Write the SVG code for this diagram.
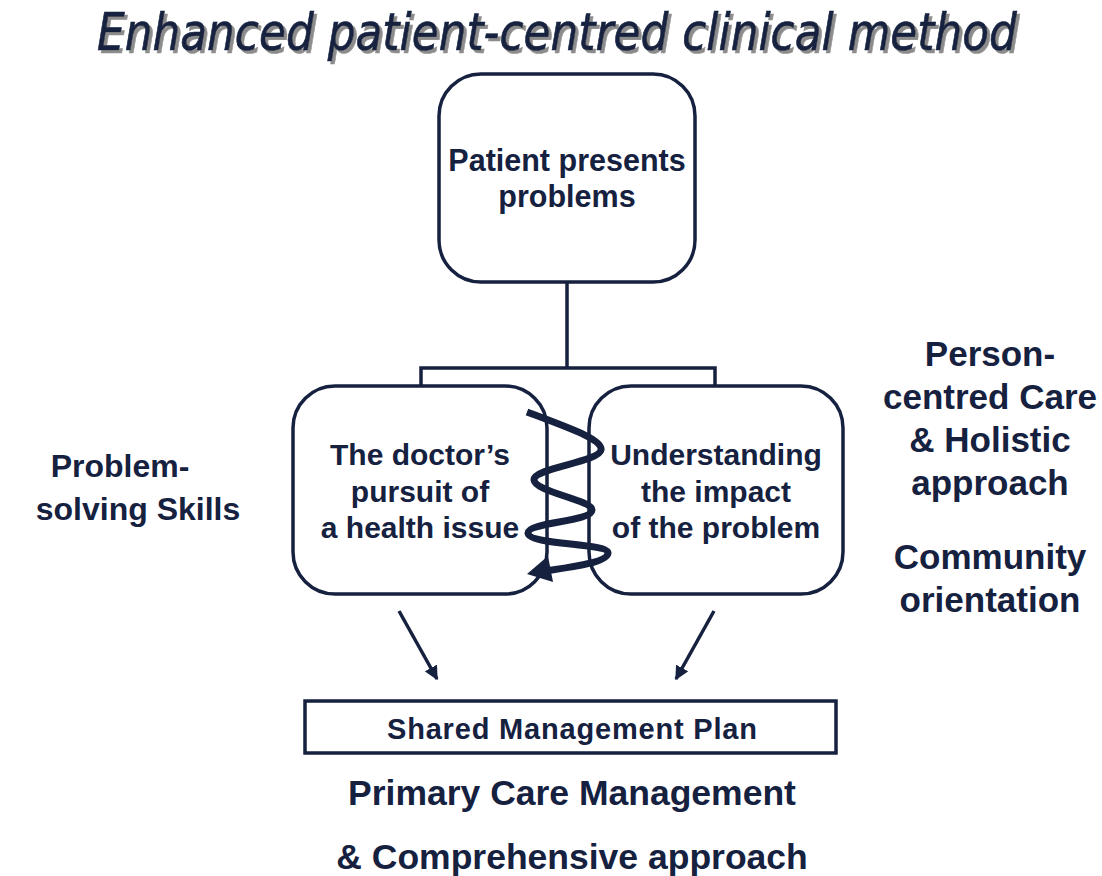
<svg xmlns="http://www.w3.org/2000/svg" width="1102" height="876" viewBox="0 0 1102 876">
<defs>
<style>
.t{font-family:"Liberation Sans",Arial,sans-serif;font-weight:bold;fill:#15213f;text-anchor:middle}
.box{fill:#ffffff;stroke:#15213f;stroke-width:3.5}
.ln{fill:none;stroke:#15213f;stroke-width:3.5}
.title{font-family:"DejaVu Sans",Verdana,sans-serif;font-style:italic;font-size:52px;fill:#15213f;stroke:#15213f;stroke-width:0.7}
</style>
<filter id="shadow" x="-5%" y="-30%" width="110%" height="160%">
<feDropShadow dx="3.5" dy="3" stdDeviation="0.6" flood-color="#8c8c8c" flood-opacity="1"/>
</filter>
<marker id="ah" viewBox="0 0 10 10" refX="9" refY="5" markerWidth="4" markerHeight="4" orient="auto" markerUnits="strokeWidth">
<path d="M0,0 L10,5 L0,10 z" fill="#15213f"/>
</marker>
</defs>
<rect width="1102" height="876" fill="#ffffff"/>
<g id="title">
<text class="title" transform="translate(97,50) scale(0.843,1)" x="0" y="0" filter="url(#shadow)">Enhanced patient-centred clinical method</text>
</g>
<g id="connectors">
<path class="ln" d="M567,282 V368 M421,386 V368 H715 V386"/>
<line class="ln" x1="399" y1="611" x2="437" y2="679" marker-end="url(#ah)" stroke-width="3"/>
<line class="ln" x1="714" y1="611" x2="676" y2="679" marker-end="url(#ah)" stroke-width="3"/>
</g>
<g id="node-top">
<rect class="box" x="439" y="74" width="256" height="208" rx="42"/>
<text class="t" font-size="30.5" x="567" y="171">Patient presents</text>
<text class="t" font-size="30.5" x="567" y="207">problems</text>
</g>
<g id="node-left">
<rect class="box" x="293" y="386" width="254" height="208" rx="42"/>
<text class="t" font-size="30" x="420" y="465">The doctor’s</text>
<text class="t" font-size="30" x="420" y="502">pursuit of</text>
<text class="t" font-size="30" x="420" y="538">a health issue</text>
</g>
<g id="node-right">
<rect class="box" x="589" y="386" width="254" height="208" rx="42"/>
<text class="t" font-size="30" x="716" y="465">Understanding</text>
<text class="t" font-size="30" x="716" y="502">the impact</text>
<text class="t" font-size="30" x="716" y="538">of the problem</text>
</g>
<g id="spiral">
<path d="M527,412 C575,430 603,440 601,450 C599,462 533,468 534,480 C535,492 592,500 592,510 C592,522 528,522 528,533 C528,545 608,543 608,553 C608,563 565,568 545,571" fill="none" stroke="#15213f" stroke-width="7" stroke-linecap="butt"/>
<polygon points="527,574 548,556 553,582" fill="#15213f"/>
</g>
<g id="node-plan">
<rect class="box" x="305" y="701" width="531" height="52" rx="0"/>
<text class="t" font-size="29" x="572" y="739" textLength="370">Shared Management Plan</text>
</g>
<g id="label-left">
<text class="t" font-size="32" x="120" y="477">Problem-</text>
<text class="t" font-size="32" x="138" y="520">solving Skills</text>
</g>
<g id="label-right">
<text class="t" font-size="35" x="990" y="366">Person-</text>
<text class="t" font-size="35" x="990" y="409">centred Care</text>
<text class="t" font-size="35" x="990" y="452">&amp; Holistic</text>
<text class="t" font-size="35" x="990" y="495">approach</text>
<text class="t" font-size="35" x="990" y="569">Community</text>
<text class="t" font-size="35" x="990" y="612">orientation</text>
</g>
<g id="label-bottom">
<text class="t" font-size="35.5" x="572" y="805">Primary Care Management</text>
<text class="t" font-size="35.5" x="572" y="869">&amp; Comprehensive approach</text>
</g>
</svg>
